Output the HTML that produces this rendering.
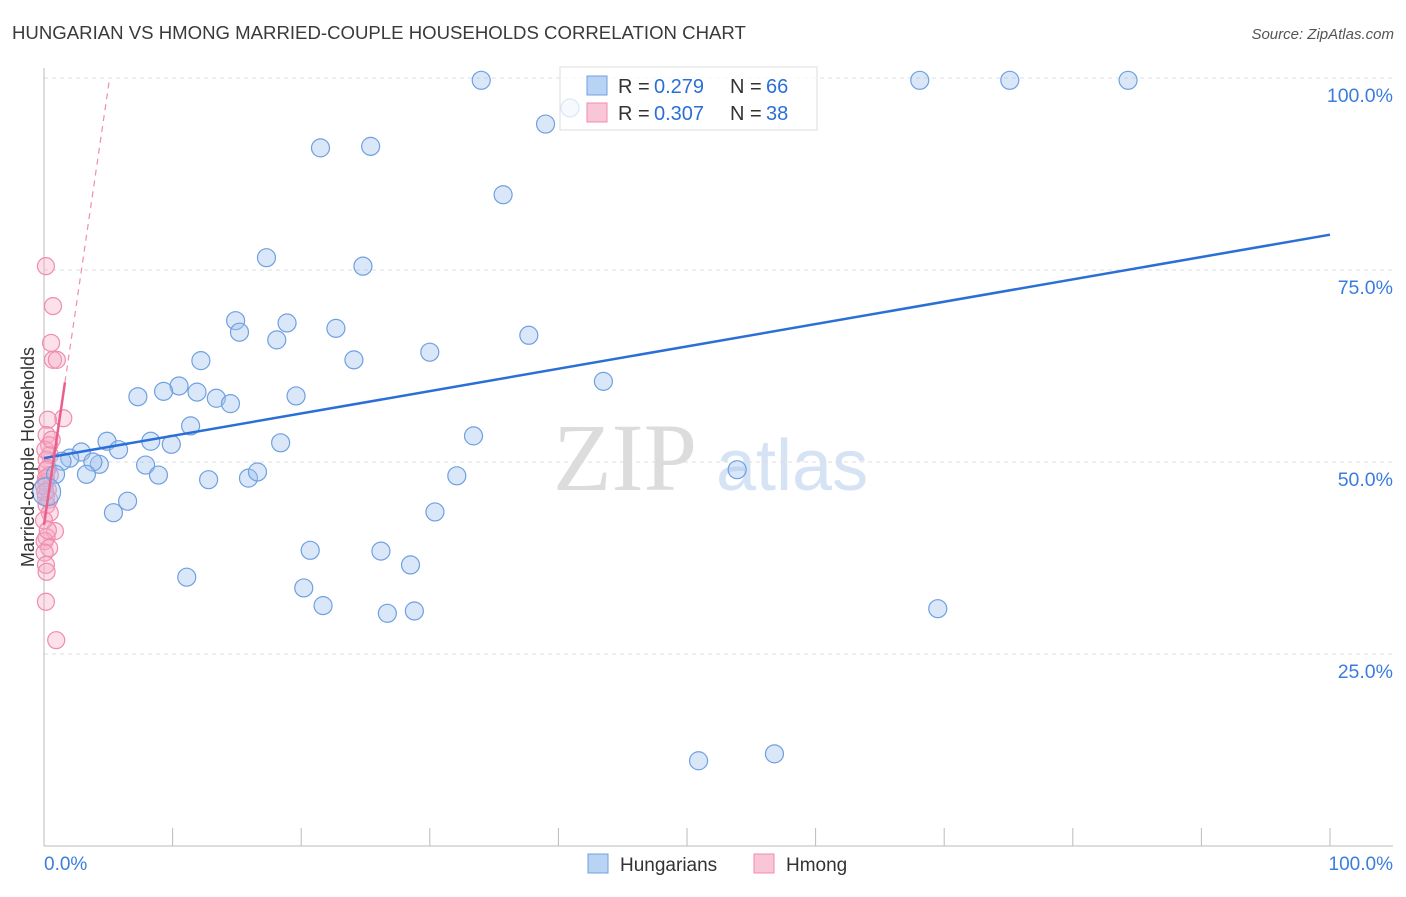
<!DOCTYPE html>
<html><head><meta charset="utf-8"><style>
body{margin:0;background:#fff;font-family:"Liberation Sans",sans-serif}
</style></head><body>
<svg id="c" width="1406" height="892" xmlns="http://www.w3.org/2000/svg">
<text x="12" y="39" font-size="18.6" fill="#3a3a3a">HUNGARIAN VS HMONG MARRIED-COUPLE HOUSEHOLDS CORRELATION CHART</text>
<text x="1394" y="39" font-size="15" fill="#555" text-anchor="end" font-style="italic">Source: ZipAtlas.com</text>
<text x="553" y="490" font-size="96" fill="#dcdcdc" font-family="Liberation Serif,serif">ZIP</text>
<text x="716" y="490" font-size="72" fill="#d5e3f5">atlas</text>
<g id="grid"></g><g id="axes"></g><g id="pts"></g><g id="lines"></g>
<g>
<rect x="560" y="67" width="257" height="63" fill="#fff" fill-opacity="0.75" stroke="#ddd"/>
<rect x="587" y="76" width="20" height="19" fill="#b8d3f4" stroke="#6fa0e0"/>
<text x="618" y="93" font-size="20" fill="#333">R =</text>
<text x="654" y="93" font-size="20" fill="#2b6fd6">0.279</text>
<text x="730" y="93" font-size="20" fill="#333">N =</text>
<text x="766" y="93" font-size="20" fill="#2b6fd6">66</text>
<rect x="587" y="103" width="20" height="19" fill="#f8c6d6" stroke="#f08cae"/>
<text x="618" y="120" font-size="20" fill="#333">R =</text>
<text x="654" y="120" font-size="20" fill="#2b6fd6">0.307</text>
<text x="730" y="120" font-size="20" fill="#333">N =</text>
<text x="766" y="120" font-size="20" fill="#2b6fd6">38</text>
</g>
<g>
<rect x="588" y="854" width="20" height="19" fill="#b8d3f4" stroke="#6fa0e0"/>
<text x="620" y="871" font-size="19" fill="#333">Hungarians</text>
<rect x="754" y="854" width="20" height="19" fill="#f8c6d6" stroke="#f08cae"/>
<text x="786" y="871" font-size="19" fill="#333">Hmong</text>
</g>
<text x="44" y="870" font-size="19" fill="#3b7ddd">0.0%</text>
<text x="1393" y="870" font-size="19" fill="#3b7ddd" text-anchor="end">100.0%</text>
<text transform="translate(34,457) rotate(-90)" font-size="18" fill="#333" text-anchor="middle">Married-couple Households</text>
</svg>
<script>
const hx=[34.0,68.1,75.1,84.3,40.9,39.0,21.5,25.4,35.7,17.3,24.8,14.9,18.9,15.2,22.7,18.1,37.7,12.2,24.1,30.0,43.5,10.5,7.3,9.3,11.9,13.4,14.5,19.6,11.4,33.4,4.9,8.3,9.9,18.4,5.8,2.9,2.0,1.4,4.3,3.8,7.9,8.9,3.3,0.9,12.8,15.9,16.6,32.1,53.9,0.2,6.5,5.4,30.4,20.7,26.2,28.5,11.1,20.2,21.7,26.7,28.8,69.5,50.9,56.8];
const hy=[99.7,99.7,99.7,99.7,96.1,94.0,90.9,91.1,84.8,76.6,75.5,68.4,68.1,66.9,67.4,65.9,66.5,63.2,63.3,64.3,60.5,59.9,58.5,59.2,59.1,58.3,57.6,58.6,54.7,53.4,52.7,52.7,52.3,52.5,51.6,51.3,50.5,50.1,49.7,50.0,49.6,48.3,48.4,48.4,47.7,47.9,48.7,48.2,49.0,46.1,44.9,43.4,43.5,38.5,38.4,36.6,35.0,33.6,31.3,30.3,30.6,30.9,11.1,12.0];
const mx=[0.15,0.7,0.55,0.7,1.0,1.5,0.3,0.2,0.4,0.45,0.2,0.3,0.45,0.15,0.3,0.15,0.4,0.2,0.45,0.85,0.2,0.05,0.4,0.05,0.15,0.2,0.15,0.95,0.1,0.2,0.15,0.0,0.1,0.6,0.0,0.3];
const my=[75.5,70.3,65.5,63.3,63.3,55.7,55.5,53.5,52.2,50.9,50.3,49.2,48.3,47.4,46.4,45.4,45.1,44.4,43.4,41.0,40.2,39.7,38.8,38.2,36.6,35.7,31.8,26.8,51.6,49.0,47.9,46.9,46.1,52.9,42.4,41.1];
const yTicks=[25,50,75,100];
const blueLine=[50.5,79.6];
const pinkInt=41.8, pinkSlope=11.4;
const X=v=>44+v*12.86, Y=v=>846-v*7.68;
const NS="http://www.w3.org/2000/svg";
function mk(p,t,a){const e=document.createElementNS(NS,t);for(const k in a)e.setAttribute(k,a[k]);document.getElementById(p).appendChild(e);return e;}
yTicks.forEach(t=>{
 const l=mk('grid','line',{x1:44,x2:1393,y1:Y(t),y2:Y(t),stroke:'#ddd','stroke-dasharray':'4,4'});
 
 
 const tx=mk('grid','text',{x:1393,y:Y(t)+24,'font-size':19.5,fill:'#3b7ddd','text-anchor':'end'});
 tx.textContent=t.toFixed(1)+'%';
 
 
});
const ax=mk('axes','line',{x1:44,x2:44,y1:68,y2:846,stroke:'#bbb'});


const bx=mk('axes','line',{x1:44,x2:1393,y1:846,y2:846,stroke:'#bbb'});


for(let i=0;i<=10;i++){const t=mk('axes','line',{x1:X(i*10),x2:X(i*10),y1:828,y2:846,stroke:'#bbb'});
 
 }
mx.forEach((v,i)=>{const c=mk('pts','circle',{cx:X(v),cy:Y(my[i]),r:8.5,fill:'rgba(245,170,195,0.35)',stroke:'#f08cae','stroke-width':1.2});
 
 });
hx.forEach((v,i)=>{const c=mk('pts','circle',{cx:X(v),cy:Y(hy[i]),r:v<0.5?14:9,fill:'rgba(160,196,240,0.4)',stroke:'#6fa0e0','stroke-width':1.2});
 
 });
const bl=mk('lines','line',{x1:X(0),y1:Y(blueLine[0]),x2:X(100),y2:Y(blueLine[1]),stroke:'#2b6fd6','stroke-width':2.5});


const pl=mk('lines','line',{x1:X(0),y1:Y(pinkInt),x2:X(1.63),y2:Y(pinkInt+pinkSlope*1.63),stroke:'#e8608a','stroke-width':2.5});


const xe=(100-pinkInt)/pinkSlope;
const pd=mk('lines','line',{x1:X(1.63),y1:Y(pinkInt+pinkSlope*1.63),x2:X(xe),y2:Y(100),stroke:'#f08cae','stroke-width':1.2,'stroke-dasharray':'6,5'});


</script>
</body></html>
